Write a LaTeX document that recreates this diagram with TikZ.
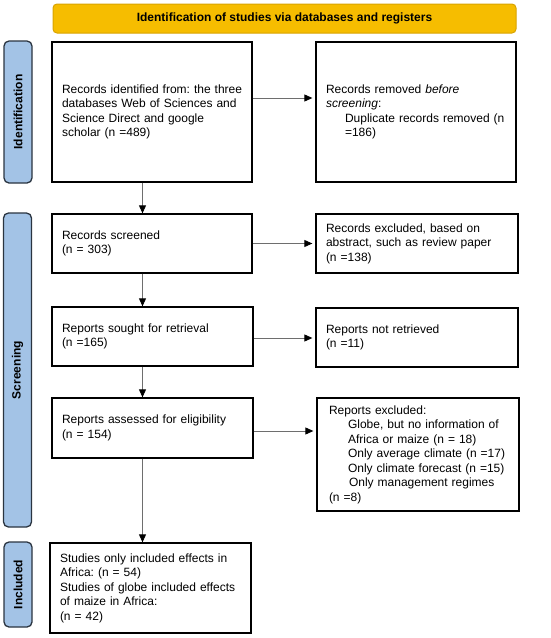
\documentclass[tikz,border=0pt]{standalone}
\usepackage{fontspec}
\setmainfont{Liberation Sans}
\usetikzlibrary{arrows.meta}
\definecolor{gold}{HTML}{F6BD00}
\definecolor{golddark}{HTML}{D8A300}
\definecolor{sideblue}{HTML}{A3C3E6}
\definecolor{sideedge}{HTML}{2A3440}
\definecolor{conn}{HTML}{6E6E6E}
\begin{document}
\frenchspacing
\begin{tikzpicture}[x=1pt,y=-1pt,
  box/.style={draw=black, line width=1.3pt, fill=white, inner xsep=10pt, inner ysep=0pt,
    text width=180pt, align=left, font=\fontsize{12}{14.5}\selectfont\frenchspacing},
  side/.style={draw=sideedge, line width=1.3pt, fill=sideblue, rounded corners=5pt,
    rotate=90, inner sep=0pt, minimum height=28pt, font=\bfseries\fontsize{12}{14}\selectfont},
  banner/.style={draw=golddark, line width=1pt, fill=gold, rounded corners=4pt,
    minimum width=463pt, minimum height=29pt, inner sep=0pt, font=\bfseries\fontsize{12}{14}\selectfont},
  conn/.style={draw=conn, line width=0.9pt, -{Triangle[length=8pt,width=7pt,color=black]}}
]
\useasboundingbox (0,0) rectangle (550,638);

\node[banner] (ban) at (284.5,18.5) {Identification of studies via databases and registers};

\node[side, minimum width=142pt] (s1) at (18,112) {Identification};
\node[side, minimum width=314pt] (s2) at (17.5,370) {Screening};
\node[side, minimum width=85pt] (s3) at (18,584.5) {Included};

\node[box, minimum height=140pt] (b1) at (152,112) {\mbox{Records identified from: the three}\\databases Web of Sciences and\\Science Direct and google\\scholar (n =489)};
\node[box, minimum height=140pt] (b2) at (416,112) {Records removed \textit{before}\\\textit{screening}:\\\hspace*{19pt}Duplicate records removed (n\\\hspace*{19pt}=186)};

\node[box, minimum height=59pt] (b3) at (152,243.5) {Records screened\\(n = 303)};
\node[box, minimum height=59pt, text width=182pt] (b4) at (417,243.5) {Records excluded, based on\\abstract, such as review paper\\(n =138)};

\node[box, minimum height=59pt, text width=181pt] (b5) at (152.5,336.5) {Reports sought for retrieval\\(n =165)};
\node[box, minimum height=59pt, text width=182pt] (b6) at (417,337.5) {Reports not retrieved\\(n =11)};

\node[box, minimum height=60pt, text width=181pt] (b7) at (152.5,428) {Reports assessed for eligibility\\(n = 154)};
\node[box, minimum height=113pt, text width=178pt, inner xsep=12pt] (b8) at (418,454.5) {Reports excluded:\\\hspace*{19pt}Globe, but no information of\\\hspace*{19pt}Africa or maize (n = 18)\\\hspace*{19pt}Only average climate (n =17)\\\hspace*{19pt}\mbox{Only climate forecast (n =15)}\\\hspace*{20pt}Only management regimes\\(n =8)};

\node[box, minimum height=90pt, text width=181pt] (b9) at (150.5,588) {Studies only included effects in\\Africa: (n = 54)\\Studies of globe included effects\\of maize in Africa:\\(n = 42)};

% horizontal connectors
\coordinate (h1) at ([yshift=14pt]b1.east);
\draw[conn, shorten >=3pt] (h1) -- (h1 -| b2.west);
\coordinate (h2) at (b3.east);
\draw[conn, shorten >=3pt] (h2) -- (h2 -| b4.west);
\coordinate (h3) at ([yshift=-1.5pt]b5.east);
\draw[conn, shorten >=3pt] (h3) -- (h3 -| b6.west);
\coordinate (h4) at ([yshift=-3pt]b7.east);
\draw[conn, shorten >=3pt] (h4) -- (h4 -| b8.west);

% vertical connectors
\coordinate (v1) at ([xshift=-9.5pt]b1.south);
\draw[conn] (v1) -- (v1 |- b3.north);
\coordinate (v2) at ([xshift=-9.5pt]b3.south);
\draw[conn] (v2) -- (v2 |- b5.north);
\coordinate (v3) at ([xshift=-10pt]b5.south);
\draw[conn] (v3) -- (v3 |- b7.north);
\coordinate (v4) at ([xshift=-10pt]b7.south);
\draw[conn] (v4) -- (v4 |- b9.north);
\end{tikzpicture}
\end{document}
